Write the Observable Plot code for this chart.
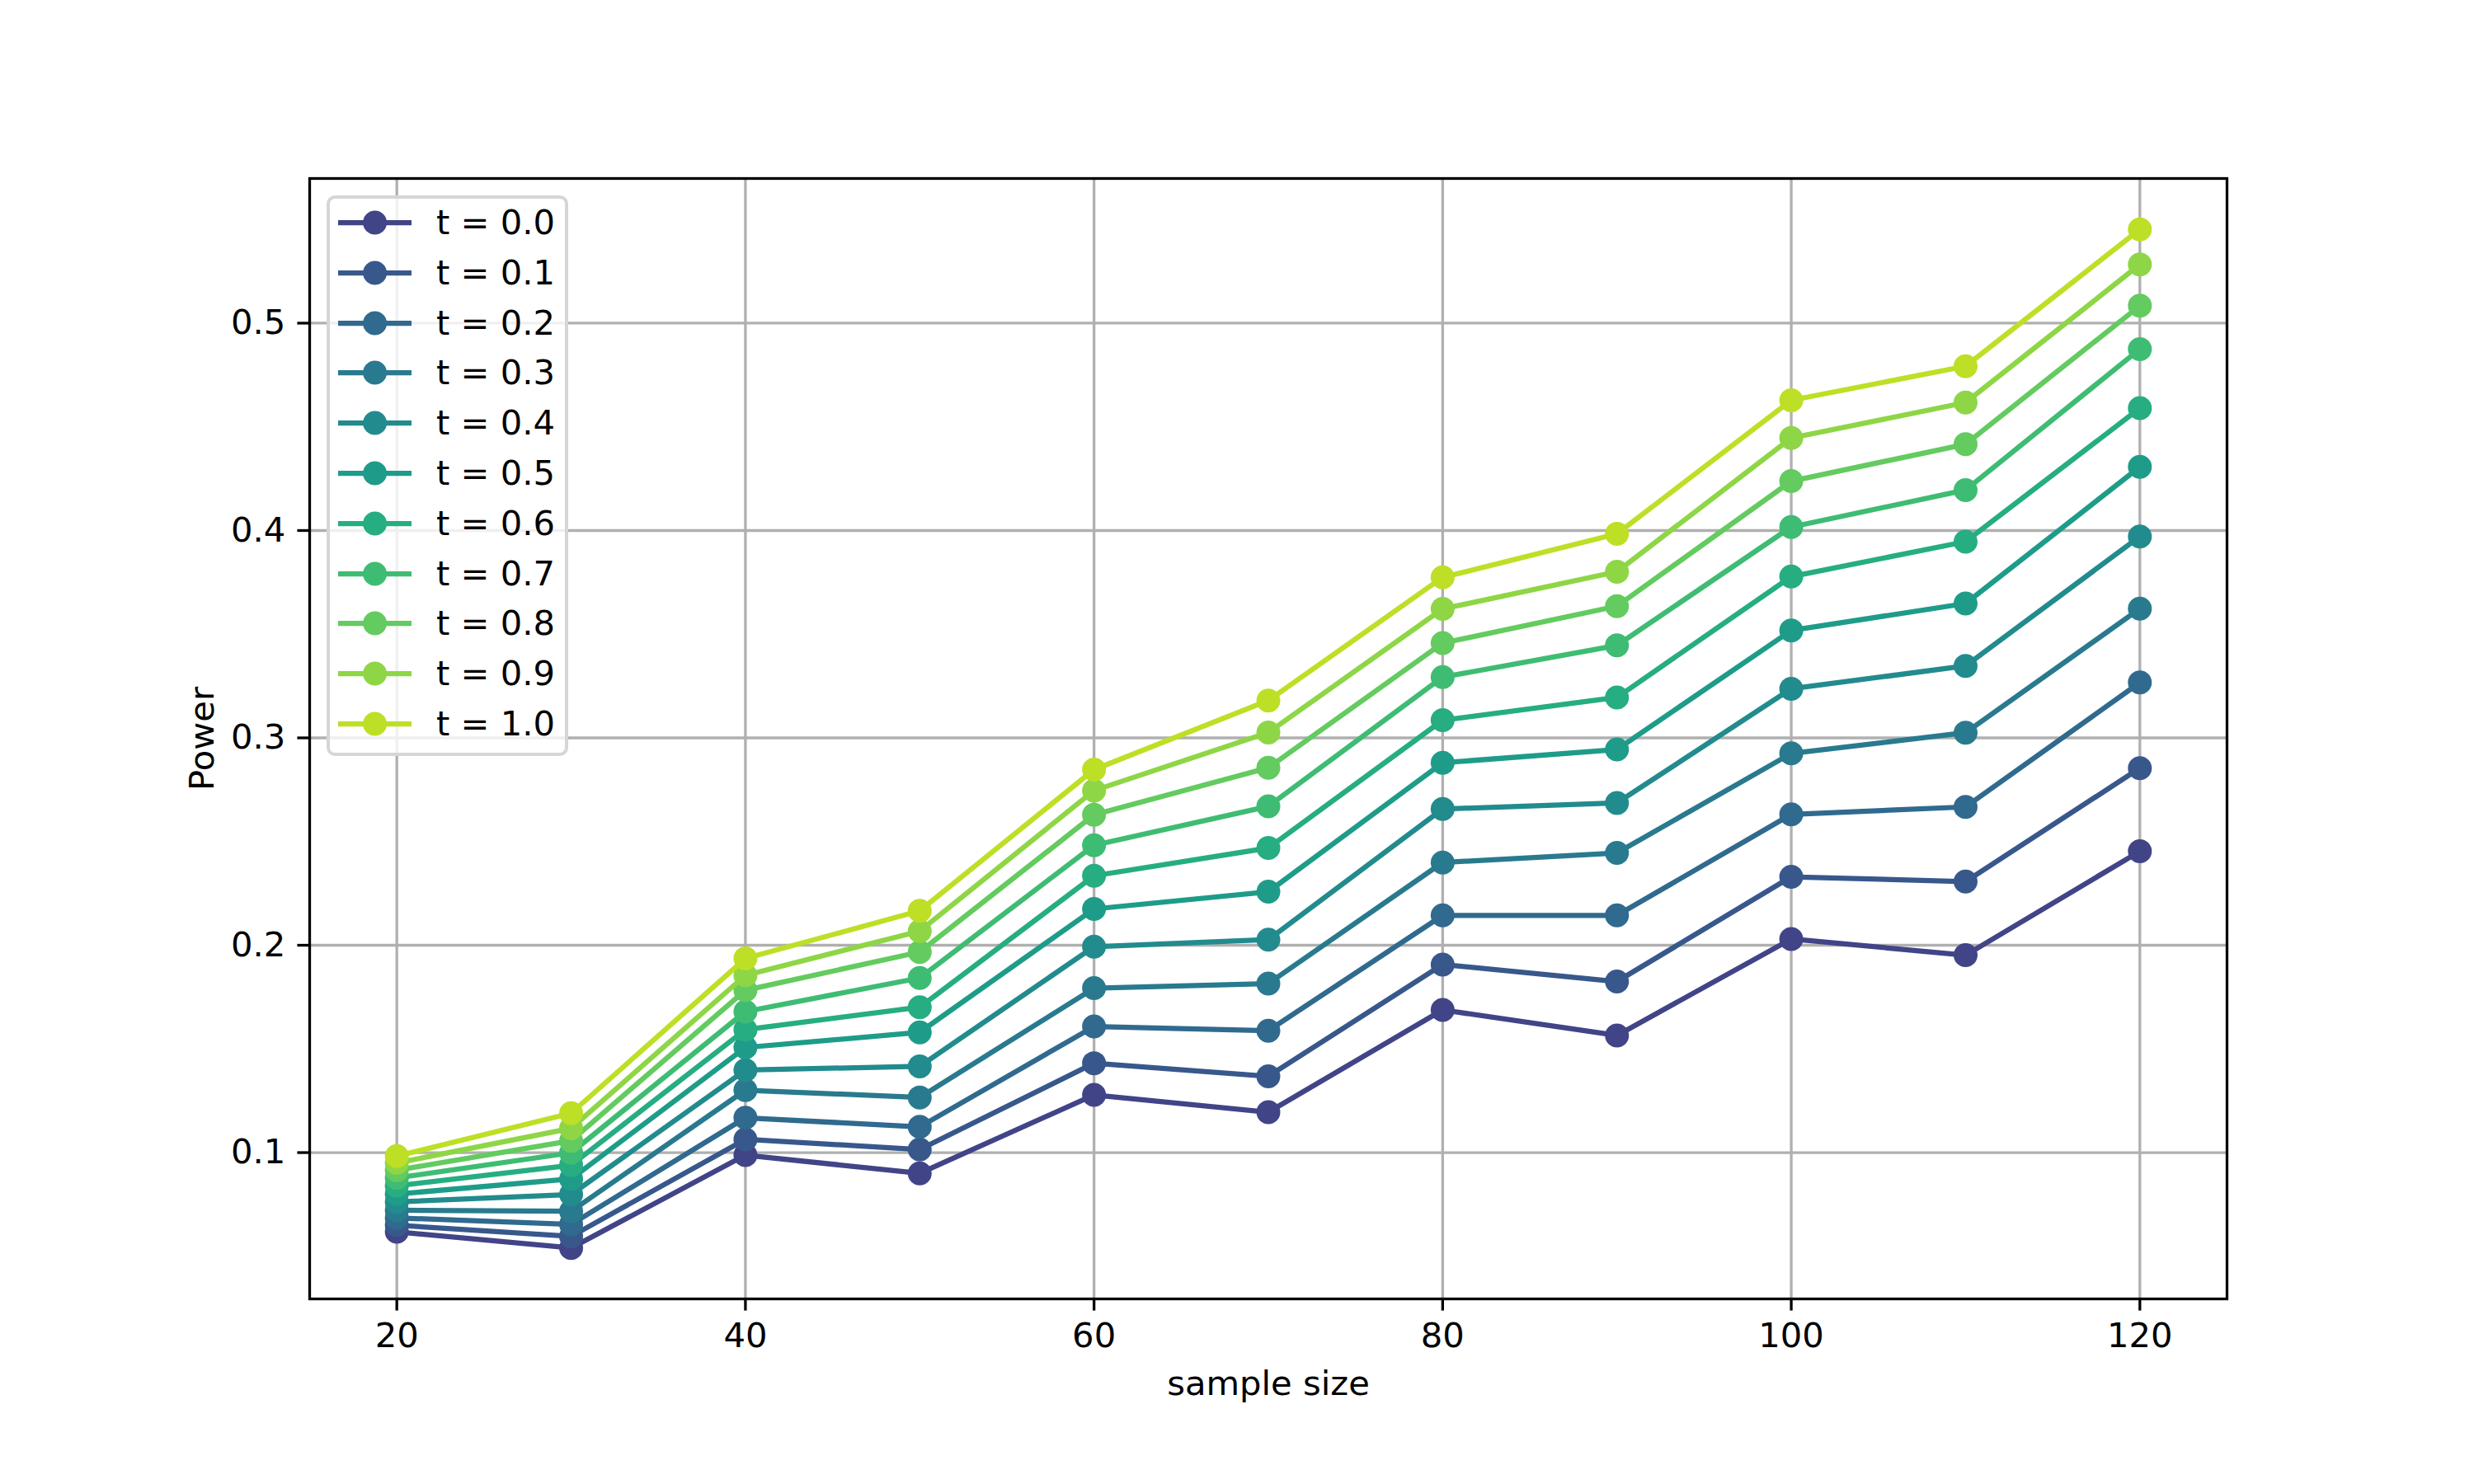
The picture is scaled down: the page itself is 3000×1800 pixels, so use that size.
<!DOCTYPE html>
<html>
<head>
<meta charset="utf-8">
<script src="https://cdn.jsdelivr.net/npm/d3@7"></script>
<script src="https://cdn.jsdelivr.net/npm/@observablehq/plot@0.6"></script>
<style>
  body { margin: 0; background: #ffffff; }
  #wrap { position: relative; width: 3000px; height: 1800px; font-family: "DejaVu Sans", sans-serif; color: #000; }
  #legend { position: absolute; left: 396px; top: 237px; width: 293px; height: 680px; box-sizing: border-box;
            border: 4px solid #d6d6d6; border-radius: 10px; background: rgba(255,255,255,0.8); }
  .row { position: absolute; left: 0; height: 40px; width: 100%; }
  .row svg { position: absolute; left: 10px; top: 0; }
  .row span { position: absolute; left: 129px; top: 50%; transform: translateY(-50%); font-size: 41.7px; line-height: 1; white-space: pre; }
</style>
</head>
<body>
<div id="wrap"></div>
<script>
// ---- data ----
const sampleSizes = [20, 30, 40, 50, 60, 70, 80, 90, 100, 110, 120];
const tLabels = ["t = 0.0", "t = 0.1", "t = 0.2", "t = 0.3", "t = 0.4", "t = 0.5", "t = 0.6", "t = 0.7", "t = 0.8", "t = 0.9", "t = 1.0"];
const power_t00 = [0.0618, 0.0540, 0.0988, 0.0900, 0.1278, 0.1195, 0.1688, 0.1565, 0.2030, 0.1952, 0.2453];
const power_t01 = [0.0650, 0.0596, 0.1064, 0.1015, 0.1431, 0.1368, 0.1907, 0.1825, 0.2330, 0.2307, 0.2854];
const power_t02 = [0.0685, 0.0654, 0.1168, 0.1124, 0.1608, 0.1588, 0.2144, 0.2144, 0.2631, 0.2667, 0.3267];
const power_t03 = [0.0722, 0.0717, 0.1301, 0.1266, 0.1793, 0.1815, 0.2399, 0.2445, 0.2925, 0.3025, 0.3623];
const power_t04 = [0.0762, 0.0798, 0.1398, 0.1416, 0.1993, 0.2027, 0.2657, 0.2686, 0.3237, 0.3347, 0.3971];
const power_t05 = [0.0800, 0.0873, 0.1507, 0.1580, 0.2175, 0.2258, 0.2880, 0.2944, 0.3518, 0.3648, 0.4307];
const power_t06 = [0.0840, 0.0939, 0.1593, 0.1701, 0.2335, 0.2469, 0.3085, 0.3195, 0.3778, 0.3946, 0.4590];
const power_t07 = [0.0878, 0.0999, 0.1680, 0.1842, 0.2482, 0.2670, 0.3293, 0.3446, 0.4017, 0.4195, 0.4875];
const power_t08 = [0.0915, 0.1057, 0.1783, 0.1967, 0.2629, 0.2856, 0.3457, 0.3635, 0.4238, 0.4416, 0.5084];
const power_t09 = [0.0950, 0.1117, 0.1855, 0.2068, 0.2746, 0.3026, 0.3622, 0.3801, 0.4446, 0.4617, 0.5283];
const power_t10 = [0.0983, 0.1190, 0.1936, 0.2166, 0.2847, 0.3180, 0.3774, 0.3984, 0.4628, 0.4792, 0.5452];
const xTicks = [20, 40, 60, 80, 100, 120];
const yTicks = [0.1, 0.2, 0.3, 0.4, 0.5];

const seriesValues = [power_t00, power_t01, power_t02, power_t03, power_t04, power_t05,
                      power_t06, power_t07, power_t08, power_t09, power_t10];
const colors = tLabels.map((_, i) => d3.interpolateViridis(0.2 + 0.7 * i / (tLabels.length - 1)));

const rows = [];
seriesValues.forEach((vals, i) => vals.forEach((v, j) => rows.push({ t: tLabels[i], n: sampleSizes[j], power: v })));

// matplotlib-style 5% margins
const allVals = seriesValues.flat();
const [ymin, ymax] = d3.extent(allVals);
const ypad = (ymax - ymin) * 0.05;
const [xmin, xmax] = d3.extent(sampleSizes);
const xpad = (xmax - xmin) * 0.05;

const LW = 6.25, R = 14.5, GW = 3.3;

const seriesMarks = tLabels.flatMap((t) => {
  const d = rows.filter(r => r.t === t);
  return [
    Plot.line(d, { x: "n", y: "power", stroke: "t", strokeWidth: LW }),
    Plot.dot(d, { x: "n", y: "power", fill: "t", r: R })
  ];
});

const chart = Plot.plot({
  width: 3000,
  height: 1800,
  marginLeft: 375,
  marginRight: 300,
  marginTop: 216,
  marginBottom: 225,
  x: { domain: [xmin - xpad, xmax + xpad] },
  y: { domain: [ymin - ypad, ymax + ypad] },
  color: { domain: tLabels, range: colors },
  style: { fontFamily: "DejaVu Sans", fontSize: "41.7px", background: "white", color: "black", overflow: "visible" },
  marks: [
    Plot.gridX({ ticks: xTicks, stroke: "#b0b0b0", strokeOpacity: 1, strokeWidth: GW }),
    Plot.gridY({ ticks: yTicks, stroke: "#b0b0b0", strokeOpacity: 1, strokeWidth: GW }),
    ...seriesMarks,
    Plot.frame({ stroke: "black", strokeWidth: GW }),
    Plot.axisX({ ticks: xTicks, tickSize: 14.6, tickPadding: 14.6, strokeWidth: GW, fontSize: 41.7, label: null, tickFormat: d => String(d) }),
    Plot.axisY({ ticks: yTicks, tickSize: 14.6, tickPadding: 14.6, strokeWidth: GW, fontSize: 41.7, label: null, tickFormat: d => d.toFixed(1) }),
    Plot.text(["sample size"], { frameAnchor: "bottom", dy: 103, fontSize: 41.7, lineAnchor: "middle", fill: "black" }),
    Plot.text(["Power"], { frameAnchor: "left", dx: -130, rotate: -90, fontSize: 41.7, lineAnchor: "middle", textAnchor: "middle", fill: "black" })
  ]
});

const wrap = document.getElementById("wrap");
wrap.appendChild(chart);

// legend (matplotlib-style, upper left)
const legend = d3.select(wrap).append("div").attr("id", "legend");
tLabels.forEach((t, i) => {
  const row = legend.append("div").attr("class", "row").style("top", (33 + 60.8 * i - 20 - 4) + "px");
  const svg = row.append("svg").attr("width", 100).attr("height", 40);
  svg.append("line").attr("x1", 0).attr("x2", 89).attr("y1", 20).attr("y2", 20)
     .attr("stroke", colors[i]).attr("stroke-width", LW);
  svg.append("circle").attr("cx", 44.6).attr("cy", 20).attr("r", R).attr("fill", colors[i]);
  row.append("span").text(t);
});
</script>
</body>
</html>
